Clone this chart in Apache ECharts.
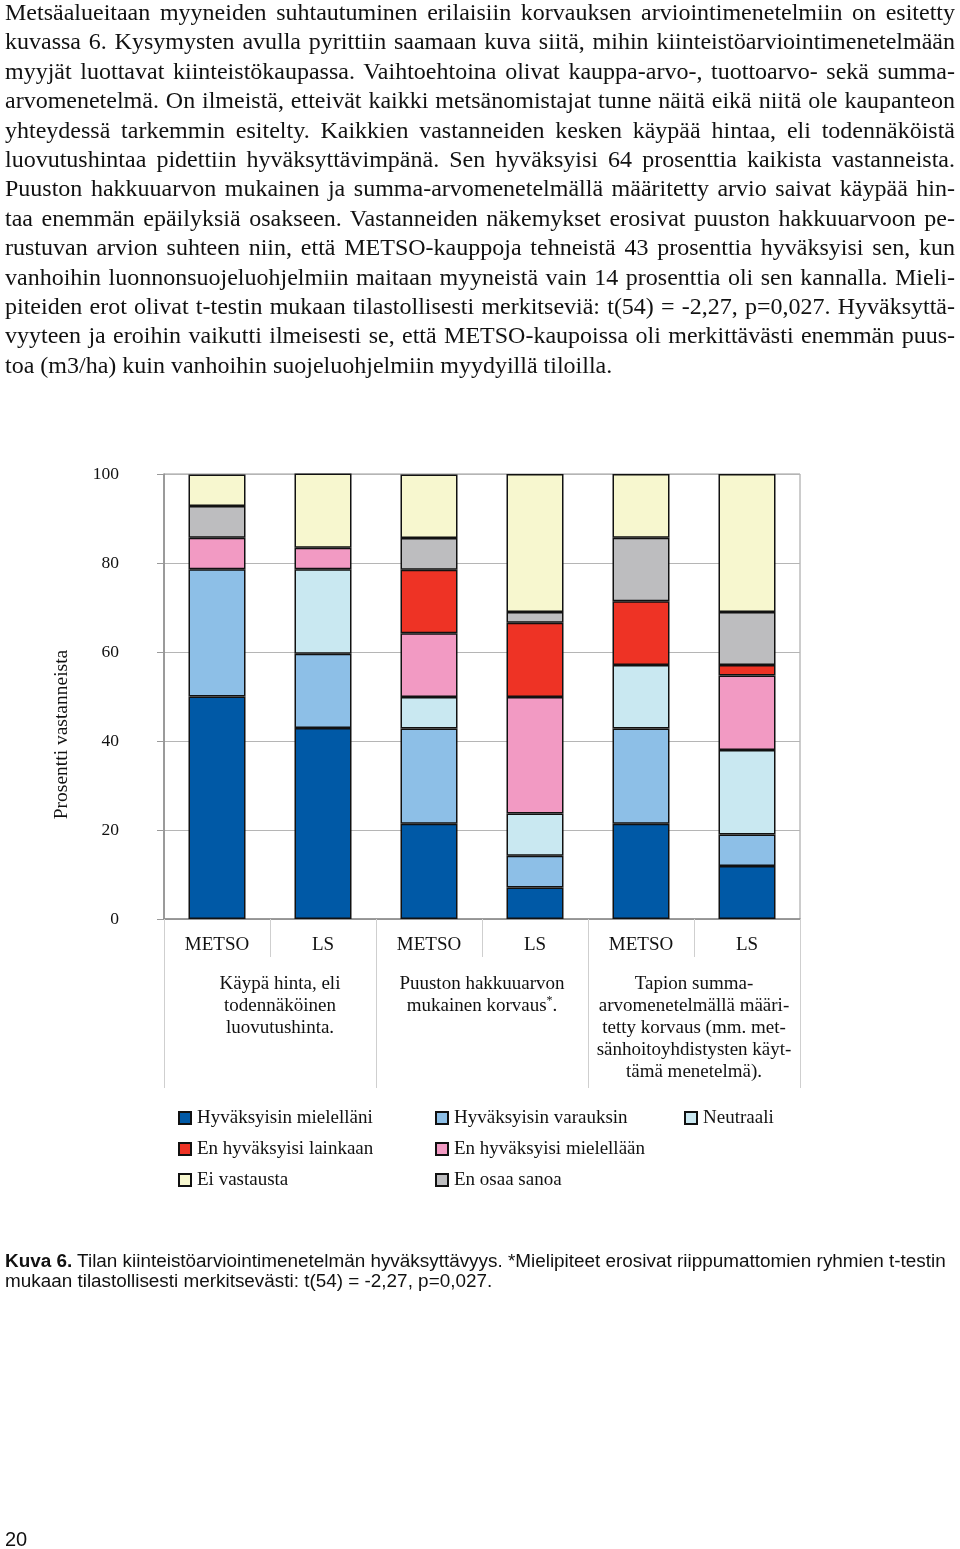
<!DOCTYPE html>
<html>
<head>
<meta charset="utf-8">
<script src="https://cdn.jsdelivr.net/npm/echarts@6/dist/echarts.min.js"></script>
<style>
html,body{margin:0;padding:0;background:#fff;}
#page{position:relative;width:960px;height:1549px;overflow:hidden;}
#chart{position:absolute;left:0;top:0;width:960px;height:1549px;}
#para{position:absolute;left:5px;top:-2px;width:950px;font-family:"Liberation Serif","Times New Roman",serif;font-size:24px;line-height:29.4px;color:#111;z-index:2;}
#para div{text-align:justify;text-align-last:justify;white-space:nowrap;}
#para div.last{text-align:left;text-align-last:left;}
#cap{position:absolute;left:5px;top:1251px;font-family:"Liberation Sans",Arial,sans-serif;font-size:18.9px;line-height:20px;color:#111;z-index:2;white-space:nowrap;}
#pnum{position:absolute;left:5px;top:1528px;font-family:"Liberation Sans",Arial,sans-serif;font-size:20px;color:#111;z-index:2;}
</style>
</head>
<body>
<div id="page">
<div id="chart"></div>
<div id="para">
<div>Metsäalueitaan myyneiden suhtautuminen erilaisiin korvauksen arviointimenetelmiin on esitetty</div>
<div>kuvassa 6. Kysymysten avulla pyrittiin saamaan kuva siitä, mihin kiinteistöarviointimenetelmään</div>
<div>myyjät luottavat kiinteistökaupassa. Vaihtoehtoina olivat kauppa-arvo-, tuottoarvo- sekä summa-</div>
<div>arvomenetelmä. On ilmeistä, etteivät kaikki metsänomistajat tunne näitä eikä niitä ole kaupanteon</div>
<div>yhteydessä tarkemmin esitelty. Kaikkien vastanneiden kesken käypää hintaa, eli todennäköistä</div>
<div>luovutushintaa pidettiin hyväksyttävimpänä. Sen hyväksyisi 64 prosenttia kaikista vastanneista.</div>
<div>Puuston hakkuuarvon mukainen ja summa-arvomenetelmällä määritetty arvio saivat käypää hin-</div>
<div>taa enemmän epäilyksiä osakseen. Vastanneiden näkemykset erosivat puuston hakkuuarvoon pe-</div>
<div>rustuvan arvion suhteen niin, että METSO-kauppoja tehneistä 43 prosenttia hyväksyisi sen, kun</div>
<div>vanhoihin luonnonsuojeluohjelmiin maitaan myyneistä vain 14 prosenttia oli sen kannalla. Mieli-</div>
<div>piteiden erot olivat t-testin mukaan tilastollisesti merkitseviä: t(54) = -2,27, p=0,027. Hyväksyttä-</div>
<div>vyyteen ja eroihin vaikutti ilmeisesti se, että METSO-kaupoissa oli merkittävästi enemmän puus-</div>
<div class="last">toa (m3/ha) kuin vanhoihin suojeluohjelmiin myydyillä tiloilla.</div>
</div>
<div id="cap"><b>Kuva 6.</b> Tilan kiinteistöarviointimenetelmän hyväksyttävyys. *Mielipiteet erosivat riippumattomien ryhmien t-testin<br>mukaan tilastollisesti merkitsevästi: t(54) = -2,27, p=0,027.</div>
<div id="pnum">20</div>
</div>
<script>
const categories = ['METSO', 'LS', 'METSO', 'LS', 'METSO', 'LS'];
const groupLabels = ['Käypä hinta, eli\ntodennäköinen\nluovutushinta.', 'Puuston hakkuuarvon\nmukainen korvaus*.', 'Tapion summa-\narvomenetelmällä määri-\ntetty korvaus (mm. met-\nsänhoitoyhdistysten käyt-\ntämä menetelmä).'];
const yTicks = [0, 20, 40, 60, 80, 100];
const seriesNames = ['Hyväksyisin mielelläni', 'Hyväksyisin varauksin', 'Neutraali', 'En hyväksyisi mielellään', 'En hyväksyisi lainkaan', 'En osaa sanoa', 'Ei vastausta'];
const hyvMielellani = [50.0, 42.9, 21.4, 7.1, 21.4, 11.9];
const hyvVarauksin = [28.6, 16.7, 21.4, 7.1, 21.4, 7.1];
const neutraali = [0, 19.0, 7.1, 9.5, 14.3, 19.0];
const enMielellaan = [7.1, 4.8, 14.3, 26.2, 0, 16.7];
const enLainkaan = [0, 0, 14.3, 16.7, 14.3, 2.4];
const enOsaa = [7.1, 0, 7.1, 2.4, 14.3, 11.9];
const eiVastausta = [7.1, 16.7, 14.3, 31.0, 14.3, 31.0];
const seriesValues = [hyvMielellani, hyvVarauksin, neutraali, enMielellaan, enLainkaan, enOsaa, eiVastausta];
const colors = ['#0059a6', '#8dbfe7', '#c9e8f1', '#f29ac3', '#ee3325', '#bdbdbf', '#f7f7cf'];

const serif = '"Liberation Serif","Times New Roman",serif';
const chart = echarts.init(document.getElementById('chart'), null, {renderer: 'canvas'});

const series = seriesNames.map((n, i) => ({
  name: n,
  type: 'bar',
  stack: 'all',
  barWidth: 57,
  data: seriesValues[i].map(v => v === 0 ? null : v),
  itemStyle: {color: colors[i], borderColor: '#111', borderWidth: 1.5},
  emphasis: {disabled: true},
  animation: false
}));

const legendBase = {
  orient: 'vertical', padding: 0, itemWidth: 12, itemHeight: 12, itemGap: 11,
  icon: 'rect', selectedMode: false,
  textStyle: {fontFamily: serif, fontSize: 19, color: '#111', lineHeight: 20, padding: [0, 0, 0, 1]}
};

chart.setOption({
  backgroundColor: '#fff',
  animation: false,
  grid: {left: 164, right: 160, top: 474, bottom: 630, show: true, borderColor: '#9a9a9a', borderWidth: 1},
  legend: [
    Object.assign({}, legendBase, {left: 178, top: 1108, data: [seriesNames[0], seriesNames[4], seriesNames[6]]}),
    Object.assign({}, legendBase, {left: 435, top: 1108, data: [seriesNames[1], seriesNames[3], seriesNames[5]]}),
    Object.assign({}, legendBase, {left: 684, top: 1108, data: [seriesNames[2]]})
  ],
  xAxis: [
    {
      type: 'category', data: categories, position: 'bottom',
      axisLine: {show: true, lineStyle: {color: '#8a8a8a', width: 1.5}},
      axisTick: {show: true, length: 38, interval: 0, lineStyle: {color: '#cfcfcf'}},
      axisLabel: {margin: 17, interval: 0, fontFamily: serif, fontSize: 19, color: '#111'},
      splitLine: {show: false}
    },
    {
      type: 'category', data: groupLabels.map((g, i) => i === 0 ? {value: g, textStyle: {padding: [0, 0, 0, 20]}} : g), position: 'bottom',
      axisLine: {show: false},
      axisTick: {show: true, length: 169, interval: 0, lineStyle: {color: '#cfcfcf'}},
      axisLabel: {
        margin: 54, interval: 0, fontFamily: serif, fontSize: 19, color: '#111', lineHeight: 22, align: 'center',
        formatter: v => v.replace('*', '{sup|*}'),
        rich: {sup: {fontSize: 12, fontFamily: serif, color: '#111', verticalAlign: 'top', lineHeight: 22, padding: [0, 0, 8, 0]}}
      },
      splitLine: {show: false}
    }
  ],
  yAxis: {
    type: 'value', min: yTicks[0], max: yTicks[yTicks.length - 1], interval: 20,
    name: 'Prosentti vastanneista', nameLocation: 'middle', nameRotate: 90, nameGap: 92,
    nameTextStyle: {fontFamily: serif, fontSize: 19.5, color: '#111', padding: [0, 76, 0, 0]},
    axisLine: {show: true, lineStyle: {color: '#8a8a8a', width: 1.5}},
    axisTick: {show: true, length: 7, lineStyle: {color: '#9a9a9a'}},
    axisLabel: {margin: 45, fontFamily: serif, fontSize: 17.5, color: '#111', padding: [4, 0, 0, 0]},
    splitLine: {show: true, lineStyle: {color: '#b5b5b5', width: 1}}
  },
  series: series
});
</script>
</body>
</html>
